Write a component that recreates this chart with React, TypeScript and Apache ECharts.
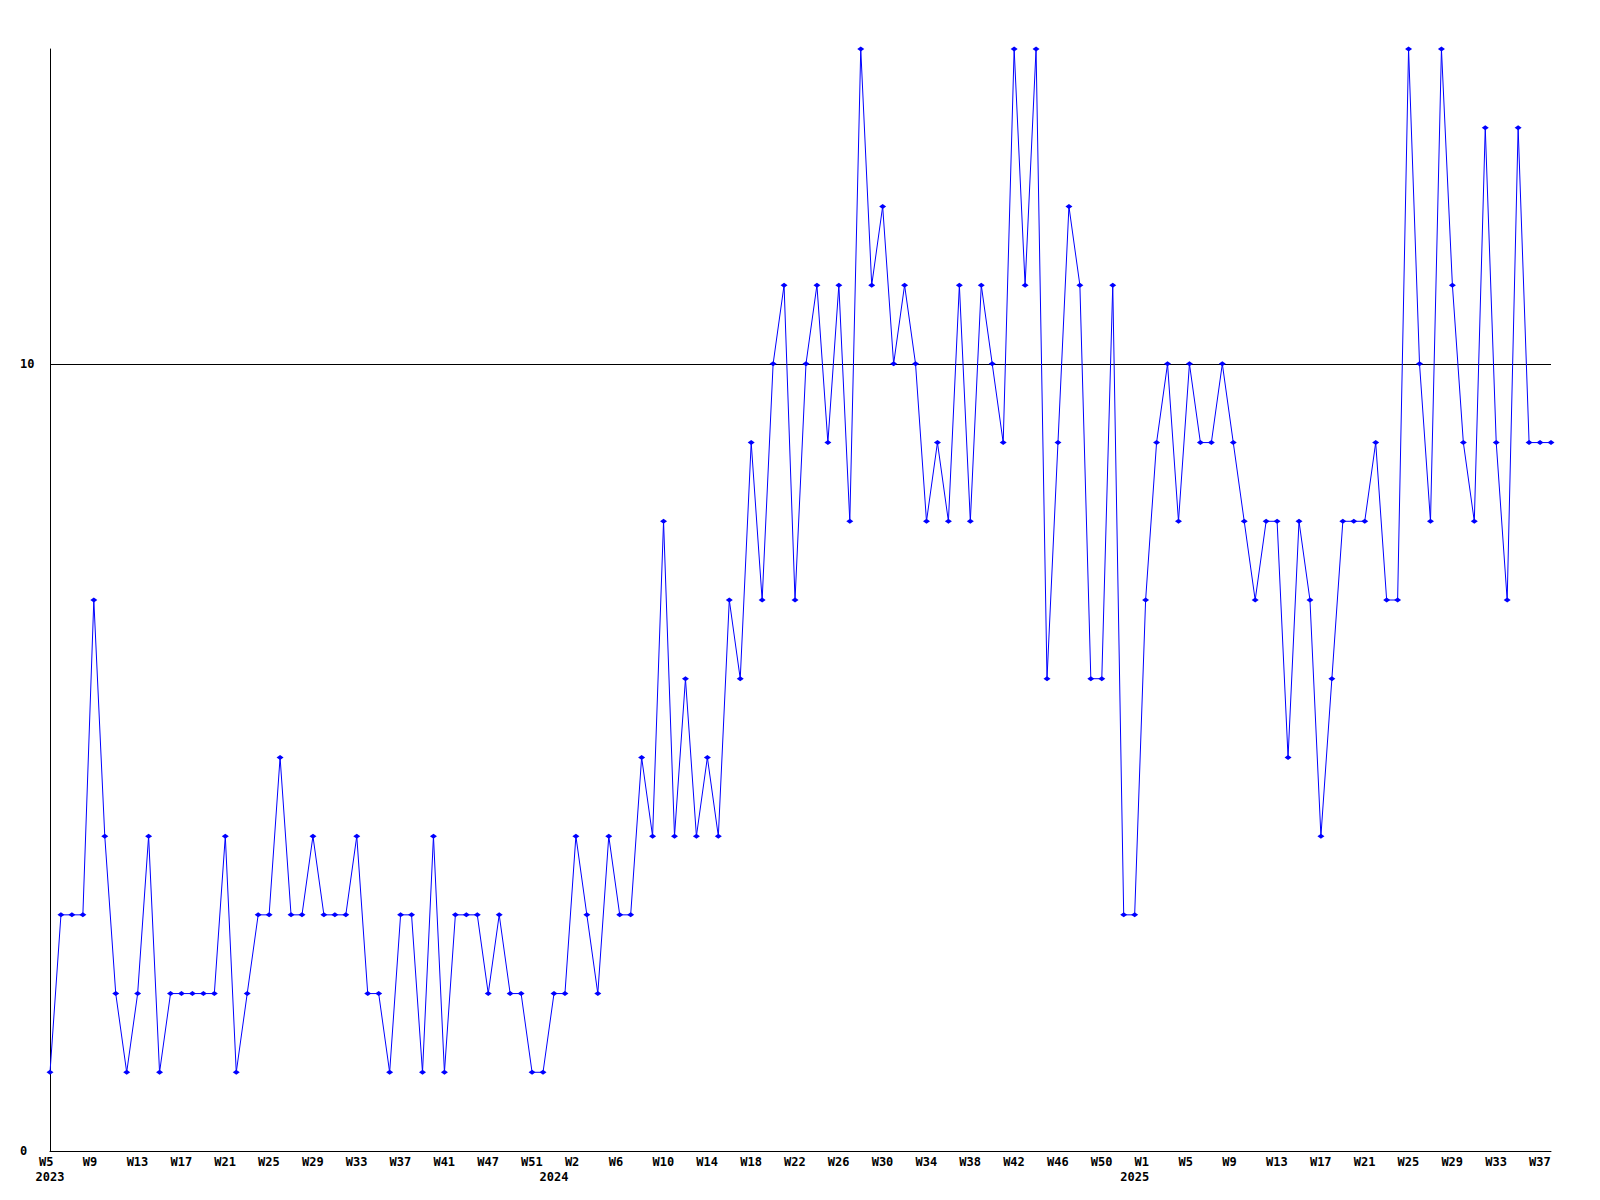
import React, { useEffect, useRef } from 'react';
import * as echarts from 'echarts';

// Week numbers shown on the category axis, per year
const weeks2023 = [5, 6, 7, 8, 9, 10, 11, 12, 13, 14, 15, 16, 17, 18, 19, 20, 21, 22, 23, 24, 25, 26, 27, 28, 29, 30, 31, 32, 33, 34, 35, 36, 37, 38, 39, 40, 41, 43, 44, 46, 47, 48, 49, 50, 51, 52];
const weeks2024 = [0, 1, 2, 3, 4, 5, 6, 7, 8, 9, 10, 11, 12, 13, 14, 15, 16, 17, 18, 19, 20, 21, 22, 23, 24, 25, 26, 27, 28, 29, 30, 31, 32, 33, 34, 35, 36, 37, 38, 39, 40, 41, 42, 43, 44, 45, 46, 47, 48, 49, 50, 51, 52];
const weeks2025 = [0, 1, 2, 3, 4, 5, 6, 7, 8, 9, 10, 11, 12, 13, 14, 15, 16, 17, 18, 19, 20, 21, 22, 23, 24, 25, 26, 27, 28, 29, 30, 31, 32, 33, 34, 35, 36, 37, 38];

// Weekly values
const values2023 = [1, 3, 3, 3, 7, 4, 2, 1, 2, 4, 1, 2, 2, 2, 2, 2, 4, 1, 2, 3, 3, 5, 3, 3, 4, 3, 3, 3, 4, 2, 2, 1, 3, 3, 1, 4, 1, 3, 3, 3, 2, 3, 2, 2, 1, 1];
const values2024 = [2, 2, 4, 3, 2, 4, 3, 3, 5, 4, 8, 4, 6, 4, 5, 4, 7, 6, 9, 7, 10, 11, 7, 10, 11, 9, 11, 8, 14, 11, 12, 10, 11, 10, 8, 9, 8, 11, 8, 11, 10, 9, 14, 11, 14, 6, 9, 12, 11, 6, 6, 11, 3];
const values2025 = [3, 7, 9, 10, 8, 10, 9, 9, 10, 9, 8, 7, 8, 8, 5, 8, 7, 4, 6, 8, 8, 8, 9, 7, 7, 14, 10, 8, 14, 11, 9, 8, 13, 9, 7, 13, 9, 9, 9];

// Y axis
const yMin = 0;
const yMax = 14;
const yTickLabels = [0, 10];

const categories = [
  ...weeks2023.map((w) => `2023|W${w}`),
  ...weeks2024.map((w) => `2024|W${w}`),
  ...weeks2025.map((w) => `2025|W${w}`),
];
const values = [...values2023, ...values2024, ...values2025];

const FONT = '"DejaVu Sans Mono", "Liberation Mono", monospace';

export default function App() {
  const ref = useRef<HTMLDivElement>(null);

  useEffect(() => {
    if (!ref.current) return;
    const chart = echarts.init(ref.current, undefined, { renderer: 'svg' });
    const labelStep = 4;
    const textStyle = {
      fontFamily: FONT,
      fontSize: 12,
      fontWeight: 'bold',
      color: '#000000',
    };
    const option = {
      animation: false,
      backgroundColor: '#ffffff',
      grid: { left: 50, right: 49, top: 49, bottom: 49, containLabel: false },
      xAxis: [
        {
          type: 'category',
          data: categories,
          boundaryGap: false,
          axisLine: { show: true, lineStyle: { color: '#000000', width: 1 } },
          axisTick: { show: false },
          splitLine: { show: false },
          axisLabel: {
            interval: labelStep - 1,
            margin: 5,
            formatter: (val: string) => `{t|${val.split('|')[1]}}`,
            rich: {
              t: { width: 22, align: 'left', ...textStyle },
            },
          },
        },
        {
          type: 'category',
          data: categories,
          boundaryGap: false,
          position: 'bottom',
          axisLine: { show: false },
          axisTick: { show: false },
          splitLine: { show: false },
          axisLabel: {
            interval: 0,
            margin: 20,
            ...textStyle,
            formatter: (val: string, idx: number) => {
              const year = val.split('|')[0];
              const prevYear = idx > 0 ? categories[idx - 1].split('|')[0] : null;
              return prevYear !== year ? year : '';
            },
          },
        },
      ],
      yAxis: {
        type: 'value',
        min: yMin,
        max: yMax,
        interval: 10,
        axisLine: { show: true, lineStyle: { color: '#000000', width: 1 } },
        axisTick: { show: false },
        splitLine: {
          show: true,
          lineStyle: { color: ['rgba(0,0,0,0)', '#000000', 'rgba(0,0,0,0)'], width: 1 },
        },
        axisLabel: {
          showMaxLabel: false,
          align: 'left',
          margin: 30,
          ...textStyle,
          formatter: (v: number) => (yTickLabels.includes(v) ? String(v) : ''),
        },
      },
      series: [
        {
          type: 'line',
          xAxisIndex: 0,
          data: values,
          showAllSymbol: true,
          symbol: 'diamond',
          symbolSize: [7, 5],
          lineStyle: { color: '#0000ff', width: 1 },
          itemStyle: { color: '#0000ff' },
        },
      ],
    };
    chart.setOption(option as any);
    return () => chart.dispose();
  }, []);

  return (
    <div
      ref={ref}
      style={{ position: 'absolute', left: 0, top: 0, width: 1600, height: 1200, background: '#fff' }}
    />
  );
}
